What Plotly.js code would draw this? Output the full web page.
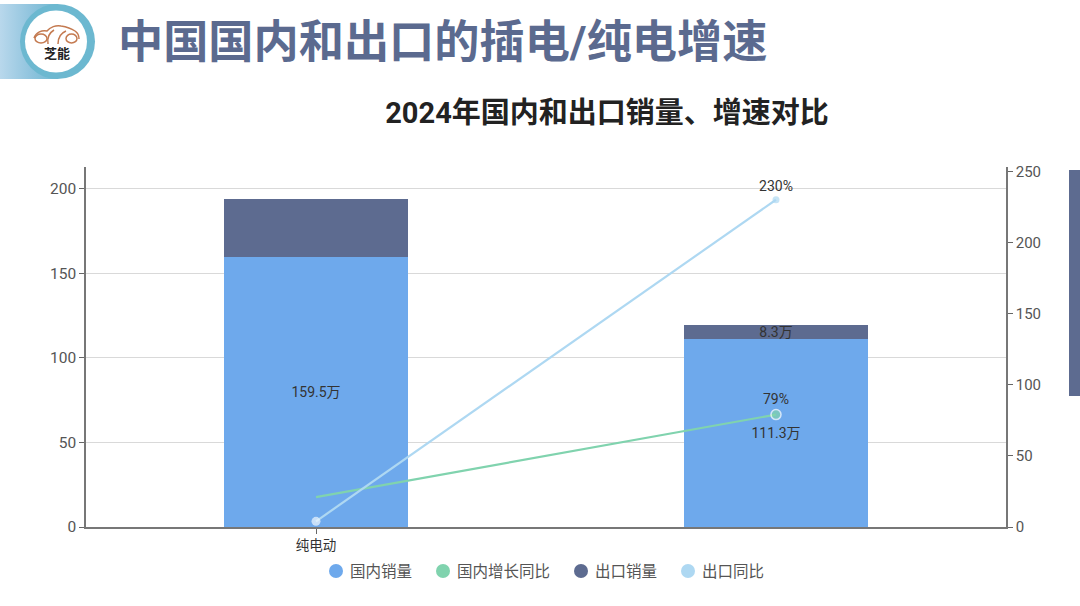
<!DOCTYPE html>
<html><head><meta charset="utf-8">
<script src="https://cdn.plot.ly/plotly-3.0.1.min.js"></script>
<style>html,body{margin:0;padding:0;background:#fff}#c{width:1080px;height:606px}</style>
</head><body><div id="c"></div>
<script>
const categories = ['纯电动', '插电'];
const tickLabels = ['纯电动'];
const domesticSales = [159.5, 111.3];
const exportSales = [34.3, 8.3];
const domesticGrowth = [21, 79];
const exportGrowth = [4, 230];
const domesticSalesText = ['159.5万', '111.3万'];
const exportSalesText = ['', '8.3万'];
const domesticGrowthText = ['', '79%'];
const exportGrowthText = ['', '230%'];
const legendNames = ['国内销量', '国内增长同比', '出口销量', '出口同比'];
const legendColors = ['#6ea9ec', '#80d3ae', '#5d6b90', '#aed8f2'];
const legendDotX = [336, 443, 581, 688];
const heading = '中国国内和出口的插电/纯电增速';
const subtitle = '2024年国内和出口销量、增速对比';
const logoText = '芝能';

const L = 86, R = 1006, T = 167, B = 527;
const px = v => (v - L) / (R - L), py = v => (B - v) / (B - T);
const FONT = 'Roboto,"Noto Sans CJK SC","Noto Sans",sans-serif';

const badge = `<svg xmlns="http://www.w3.org/2000/svg" width="100" height="84" viewBox="0 0 100 84">
<defs><linearGradient id="g" x1="0" x2="1" y1="0" y2="0"><stop offset="0" stop-color="#b9d8ec"/><stop offset="0.55" stop-color="#8ec3dd"/><stop offset="1" stop-color="#6cb8d0"/></linearGradient></defs>
<rect x="0" y="4" width="58" height="75" fill="url(#g)"/>
<circle cx="57.5" cy="41.5" r="37.5" fill="#6cb8d0"/>
<circle cx="56" cy="41.5" r="31" fill="#ffffff"/>
<g fill="none" stroke="#c47a50" stroke-width="1.5">
<path d="M34 38 C36 32 42 30 47 31 C50 27 56 25 61 26 C67 27 72 29 75 31 C78 33 79 36 79 39"/>
<path d="M48 44 C47 38 49 33 54 30 M58 44 C58 38 61 33 66 31"/>
<ellipse cx="41" cy="38.5" rx="6" ry="4.5"/><ellipse cx="71.5" cy="38.5" rx="5.5" ry="4.5"/>
</g></svg>`;

const traces = [
  {type:'bar', name:'国内销量', x:categories, y:domesticSales, text:domesticSalesText,
   marker:{color:legendColors[0]}, textposition:'inside', insidetextanchor:'middle', textangle:0,
   constraintext:'none', textfont:{size:14,color:'#333'}, yaxis:'y'},
  {type:'bar', name:'出口销量', x:categories, y:exportSales, text:exportSalesText,
   marker:{color:legendColors[2]}, textposition:'inside', insidetextanchor:'middle', textangle:0,
   constraintext:'none', textfont:{size:14,color:'#333'}, yaxis:'y'},
  {type:'scatter', mode:'lines+markers+text', name:'国内增长同比', x:categories, y:domesticGrowth,
   text:domesticGrowthText, textposition:'top center', textfont:{size:14,color:'#333'}, yaxis:'y2',
   cliponaxis:false, line:{color:legendColors[1],width:2.2},
   marker:{size:[0,10],color:legendColors[1],line:{color:'#ffffff',width:1.5}}},
  {type:'scatter', mode:'lines+markers+text', name:'出口同比', x:categories, y:exportGrowth,
   text:exportGrowthText, textposition:'top center', textfont:{size:14,color:'#333'}, yaxis:'y2',
   cliponaxis:false, line:{color:legendColors[3],width:2.2},
   marker:{size:[9,7],color:['#eef7fd',legendColors[3]],line:{width:0}}}
];

const annotations = [
  {text:heading, xref:'paper', yref:'paper', x:px(116), y:py(43), xanchor:'left', yanchor:'middle', showarrow:false,
   font:{family:FONT,size:45.2,color:'#5b6a8f',weight:700}},
  {text:logoText, xref:'paper', yref:'paper', x:px(57), y:py(53), xanchor:'center', yanchor:'middle', showarrow:false,
   font:{family:FONT,size:13,color:'#222',weight:700}}
];
const shapes = [
  {type:'rect', xref:'paper', yref:'paper', x0:px(1069), x1:px(1080), y0:py(170), y1:py(396), fillcolor:'#5d6b90', line:{width:0}}
];
legendNames.forEach((n,i)=>{
  annotations.push({text:n, xref:'paper', yref:'paper', x:px(legendDotX[i]+12), y:py(572), xanchor:'left', yanchor:'middle',
    showarrow:false, font:{family:FONT,size:15.5,color:'#555'}});
  shapes.push({type:'circle', xref:'paper', yref:'paper', x0:px(legendDotX[i]-7), x1:px(legendDotX[i]+7),
    y0:py(578), y1:py(564), fillcolor:legendColors[i], line:{width:0}});
});

const layout = {
  width:1080, height:606, paper_bgcolor:'#fff', plot_bgcolor:'#fff', showlegend:false,
  font:{family:FONT,color:'#555',size:15},
  margin:{l:L, r:1080-R, t:T, b:606-B, pad:0},
  barmode:'stack', bargap:0.6,
  title:{text:subtitle, x:607/1080, y:1-113/606, xref:'container', yref:'container', xanchor:'center', yanchor:'middle',
    font:{family:FONT,size:29,color:'#222',weight:700}},
  xaxis:{type:'category', categoryorder:'array', categoryarray:categories, range:[-0.5,1.5], tickmode:'array',
    tickvals:tickLabels, ticktext:tickLabels, ticks:'outside', ticklen:5, tickcolor:'#666',
    tickfont:{size:13.5,color:'#333'}, showline:true, linecolor:'#777', linewidth:1.5, showgrid:false, zeroline:false},
  yaxis:{range:[0,212.8], tickvals:[0,50,100,150,200], ticks:'outside', ticklen:5, tickcolor:'#666',
    showline:true, linecolor:'#777', linewidth:1.5, gridcolor:'#d9d9d9', gridwidth:1, zeroline:false,
    tickfont:{size:15.5,color:'#555'}},
  yaxis2:{overlaying:'y', side:'right', range:[0,253], tickvals:[0,50,100,150,200,250], ticks:'outside', ticklen:5, tickcolor:'#666',
    showline:true, linecolor:'#777', linewidth:1.5, showgrid:false, zeroline:false, tickfont:{size:15,color:'#555'}},
  images:[{source:'data:image/svg+xml;charset=utf-8,'+encodeURIComponent(badge), xref:'paper', yref:'paper',
    x:px(0), y:py(0), sizex:px(100)-px(0), sizey:py(0)-py(84), xanchor:'left', yanchor:'top', sizing:'stretch', layer:'below'}],
  annotations, shapes
};
Plotly.newPlot('c', traces, layout, {displayModeBar:false, responsive:false});
</script></body></html>
